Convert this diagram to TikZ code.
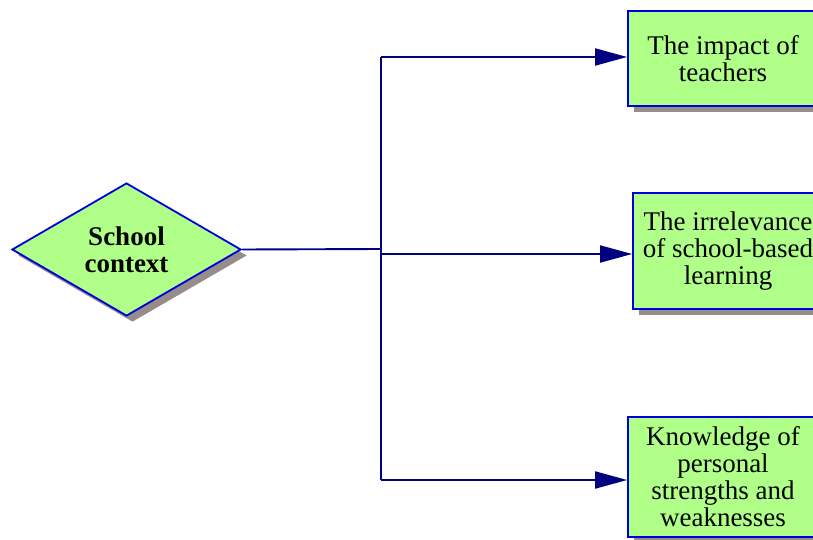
\documentclass[tikz,border=0pt]{standalone}
\usepackage{fontspec}
\setmainfont{Liberation Serif}
\usetikzlibrary{shapes.geometric,shadows,arrows.meta}
\definecolor{boxfill}{RGB}{176,255,136}
\definecolor{boxline}{RGB}{0,0,220}
\definecolor{linknavy}{RGB}{0,0,128}
\definecolor{shadowgray}{RGB}{150,140,140}
\tikzset{
  flatshadow/.style={drop shadow={shadow xshift=6pt,shadow yshift=-6pt,fill=shadowgray,opacity=1}},
  topic/.style={draw=boxline,line width=1.8pt,fill=boxfill,flatshadow,
    minimum width=190pt,inner sep=2pt,align=center,
    font=\fontsize{27}{27}\selectfont},
  hub/.style={diamond,draw=boxline,line width=1.8pt,fill=boxfill,flatshadow,
    aspect=1.72,minimum width=229pt,minimum height=133pt,inner sep=0pt,align=center,
    font=\fontsize{27}{27}\selectfont\bfseries},
  link/.style={draw=linknavy,line width=1.9pt},
  linkarrow/.style={link,-{Triangle[length=32pt,width=17pt]}}
}
\begin{document}
\begin{tikzpicture}[x=1pt,y=-1pt]
  \useasboundingbox (0,0) rectangle (813,540);
  \clip (0,0) rectangle (813,540);

  % central topic
  \node[hub] (school) at (126.5,249.5) {School\\context};

  % outcome boxes
  \node[topic,minimum height=95pt] (impact) at (723,58.5) {The impact of\\teachers};
  \node[topic,minimum height=116pt] (irrel) at (728,251) {The irrelevance\\of school-based\\learning};
  \node[topic,minimum height=120pt] (know) at (723,477) {Knowledge of\\personal\\strengths and\\weaknesses};

  % branching points on the spine
  \coordinate (jmid) at (381,249);
  \coordinate (jtop) at (381,57);
  \coordinate (jirr) at (381,254);
  \coordinate (jbot) at (381,480);

  \draw[link] (school.east) -- (jmid);
  \draw[link] (jtop) -- (jbot);
  \draw[linkarrow] (jtop) -- (jtop -| impact.west);
  \draw[linkarrow] (jirr) -- (jirr -| irrel.west);
  \draw[linkarrow] (jbot) -- (jbot -| know.west);
\end{tikzpicture}
\end{document}
